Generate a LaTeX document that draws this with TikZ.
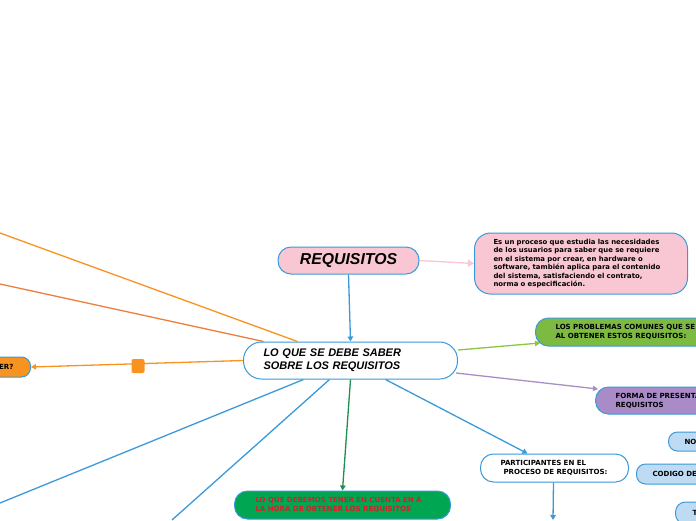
\documentclass[tikz,border=0pt]{standalone}
\usepackage{fontspec}
\setmainfont{DejaVu Sans}
\newfontfamily\arialfont{Liberation Sans}
\usetikzlibrary{arrows.meta}
\definecolor{bblue}{HTML}{3A9AD9}
\definecolor{pinkf}{HTML}{F9C7D3}
\definecolor{orng}{HTML}{F7931E}
\definecolor{orng2}{HTML}{EE7E3E}
\definecolor{lgreen}{HTML}{8CC63F}
\definecolor{probf}{HTML}{7CBA42}
\definecolor{purpl}{HTML}{A68FC6}
\definecolor{formf}{HTML}{A98BC7}
\definecolor{dgreen}{HTML}{1F8E4F}
\definecolor{grnf}{HTML}{00A651}
\definecolor{redt}{HTML}{D4202A}
\definecolor{lbluef}{HTML}{BFDBF3}
\begin{document}
\begin{tikzpicture}[x=1pt,y=-1pt,
  box/.style={draw=bblue, line width=1pt, inner ysep=0pt, align=left},
  small/.style={font=\bfseries\fontsize{7.05}{9}\selectfont},
  conn/.style={line width=1.3pt},
  tip/.style={-{Triangle[width=5.5pt,length=5pt]}}
]
\useasboundingbox (0,0) rectangle (696,520);

% nodes
\node[box, fill=pinkf, minimum width=141pt, minimum height=27pt, rounded corners=13pt, align=center,
  font=\arialfont\bfseries\itshape\fontsize{15.8}{18}\selectfont] (req) at (348.5,260.5) {REQUISITOS};
\node[box, fill=pinkf, anchor=west, minimum height=61pt, rounded corners=16pt, inner xsep=19pt, text width=175pt,
  font=\bfseries\fontsize{6.9}{8.4}\selectfont] (desc) at (474,263.5)
  {Es un proceso que estudia las necesidades\\de los usuarios para saber que se requiere\\en el sistema por crear, en hardware o\\software, también aplica para el contenido\\del sistema, satisfaciendo el contrato,\\norma o especificación.};
\node[box, fill=white, anchor=west, minimum height=37pt, rounded corners=18pt, inner xsep=20pt, text width=174pt,
  font=\arialfont\bfseries\itshape\fontsize{11}{13}\selectfont] (cen) at (243,360.5)
  {LO QUE SE DEBE SABER\\SOBRE LOS REQUISITOS};
\node[box, small, fill=orng, anchor=east, minimum height=20pt, rounded corners=9pt, inner xsep=17pt, text width=80pt, align=right] (lft) at (31,367) {ER?};
\node[fill=orng, rounded corners=2pt, minimum width=13pt, minimum height=14pt, inner sep=0pt] (sq) at (138,366) {};
\node[box, small, fill=probf, anchor=west, minimum height=28pt, rounded corners=13pt, inner xsep=20pt, text width=200pt] (pro) at (535,332)
  {LOS PROBLEMAS COMUNES QUE SE\\AL OBTENER ESTOS REQUISITOS:};
\node[box, small, fill=formf, anchor=west, minimum height=27pt, rounded corners=13pt, inner xsep=20pt, text width=200pt] (forma) at (595,400.5)
  {FORMA DE PRESENTA\\REQUISITOS};
\node[box, small, fill=white, anchor=west, minimum height=28pt, rounded corners=13pt, inner xsep=20pt, text width=108pt] (par) at (480,468)
  {PARTICIPANTES EN EL\\\hspace*{3pt}PROCESO DE REQUISITOS:};
\node[box, small, fill=lbluef, anchor=west, minimum height=19pt, rounded corners=9pt, inner xsep=16pt, text width=100pt] (no) at (668,441.5) {NO};
\node[box, small, fill=lbluef, anchor=west, minimum height=20pt, rounded corners=9pt, inner xsep=16pt, text width=100pt] (cod) at (636,474) {CODIGO DE};
\node[box, small, fill=lbluef, anchor=west, minimum height=22pt, rounded corners=10pt, inner xsep=17pt, text width=100pt] (tt) at (675,513) {T};
\node[box, small, fill=grnf, text=redt, anchor=west, minimum height=28pt, rounded corners=13pt, inner xsep=21pt, text width=174pt] (grn) at (234,505)
  {LO QUE DEBEMOS TENER EN CUENTA EN A\\LA HORA DE OBTENER LOS REQUISITOS};

% free ends
\coordinate (o1) at (0,233);
\coordinate (o2) at (0,284);
\coordinate (bl1) at (0,503);
\coordinate (bl2) at (172,520);
\coordinate (pd) at (553,520);

% connectors
\draw[conn, pinkf, -{Triangle[width=7pt,length=6pt]}] (req.east) -- (desc.west);
\draw[conn, bblue, tip] (req.south) -- (cen.north);
\draw[conn, orng] (o1) -- ([xshift=-53pt]cen.north);
\draw[conn, orng2] (o2) -- ([xshift=-87pt]cen.north);
\draw[conn, orng, tip] (cen.west) -- (lft.east);
\draw[conn, lgreen, tip] ([yshift=10.5pt]cen.east) -- ([xshift=5pt,yshift=-11pt]pro.west);
\draw[conn, purpl, tip] ([xshift=-2pt,yshift=-12.5pt]cen.east) -- ([xshift=3pt,yshift=11.5pt]forma.west);
\draw[conn, bblue, tip] ([xshift=35pt]cen.south) -- ([xshift=-27pt]par.north);
\draw[conn, bblue, tip] ([xshift=-1pt]par.south) -- (pd);
\draw[conn, dgreen, tip] (cen.south) -- (grn.north);
\draw[conn, bblue] ([xshift=-47pt]cen.south) -- (bl1);
\draw[conn, bblue] ([xshift=-21pt]cen.south) -- (bl2);
\end{tikzpicture}
\end{document}
